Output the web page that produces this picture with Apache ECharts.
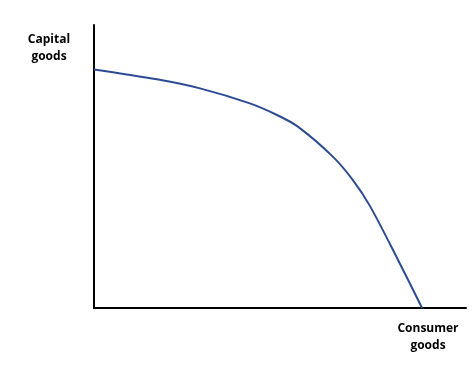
<!DOCTYPE html>
<html>
<head>
<meta charset="utf-8">
<script src="https://cdn.jsdelivr.net/npm/echarts@6/dist/echarts.min.js"></script>
<style>html,body{margin:0;padding:0;background:#fff}#c{width:474px;height:366px}</style>
</head>
<body>
<div id="c"></div>
<script>
const consumerGoods = [0, 16.9, 28.5, 41.9, 49.2, 54.8, 64.2, 69.6, 74.2, 81.5, 88.2];
const capitalGoods  = [84.3, 80.8, 77.6, 72.3, 68.2, 64.1, 53.5, 45.2, 36.0, 17.6, 0];
const yAxisLabel = ['Capital', 'goods'];
const xAxisLabel = ['Consumer', 'goods'];

const chart = echarts.init(document.getElementById('c'));
const font = '"Open Sans", "Liberation Sans", sans-serif';
chart.setOption({
  animation: false,
  grid: {left: 94, right: 8, top: 25, bottom: 58},
  xAxis: {type: 'value', min: 0, max: 100, splitLine: {show: false},
    axisLine: {show: true, onZero: false, lineStyle: {color: '#000', width: 2}},
    axisTick: {show: false}, axisLabel: {show: false}},
  yAxis: {type: 'value', min: 0, max: 100, splitLine: {show: false},
    axisLine: {show: true, onZero: false, lineStyle: {color: '#000', width: 2}},
    axisTick: {show: false}, axisLabel: {show: false}},
  series: [{
    type: 'line', smooth: 0.3, symbol: 'none',
    lineStyle: {color: '#2d4b95', width: 2},
    data: consumerGoods.map((x, i) => [x, capitalGoods[i]])
  }],
  graphic: [
    {type: 'text', x: 49, y: 31, style: {text: yAxisLabel.join('\n'), font: 'bold 12px ' + font, fill: '#000', align: 'center', lineHeight: 17}},
    {type: 'text', x: 428, y: 320, style: {text: xAxisLabel.join('\n'), font: 'bold 12px ' + font, fill: '#000', align: 'center', lineHeight: 17}}
  ]
});
</script>
</body>
</html>
